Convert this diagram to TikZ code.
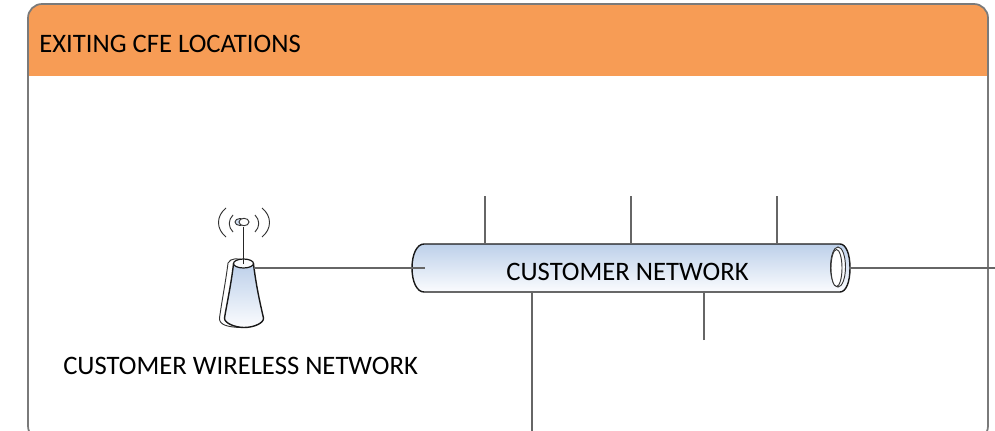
\documentclass[tikz,border=0pt]{standalone}
\usepackage{fontspec}
\setmainfont{Carlito}
\definecolor{hdr}{HTML}{F79C55}
\definecolor{frameg}{HTML}{7A7A7A}
\definecolor{lineg}{HTML}{666666}
\definecolor{blu}{HTML}{BDD0EA}
\definecolor{blw}{HTML}{FBFCFE}
\tikzset{
  lbl/.style={font=\fontsize{20}{22}\selectfont,text=black,inner sep=0pt},
  wire/.style={draw=lineg,line width=0.8pt},
  ink/.style={draw=black!90,line width=1.05pt},
  thin ink/.style={draw=black!80,line width=0.7pt},
  grad/.style={top color=blu,bottom color=blw}
}
\begin{document}
\begin{tikzpicture}[x=0.75pt,y=-0.75pt]
\useasboundingbox (0,0) rectangle (995,431);
\clip (0,0) rectangle (995,431);
% frame and header
\begin{scope}
\clip[rounded corners=10.5pt] (28,4) rectangle (988,440);
\fill[white] (28,4) rectangle (988,440);
\fill[hdr] (28,4) rectangle (988,76);
\end{scope}
\draw[draw=frameg,line width=1.3pt,rounded corners=10.5pt] (28,4) rectangle (988,440);
\node[lbl,anchor=base west] (title) at (39,53) {EXITING CFE LOCATIONS};
% pipe
\path[grad] (424,244) -- (840,244) .. controls (846,244) and (850,254) .. (850,268)
  .. controls (850,282) and (846,292) .. (840,292) -- (424,292)
  .. controls (417,292) and (412,282) .. (412,268) .. controls (412,254) and (417,244) .. (424,244) -- cycle;
\draw[ink] (424,244) -- (840,244) .. controls (846,244) and (850,254) .. (850,268)
  .. controls (850,282) and (846,292) .. (840,292) -- (424,292)
  .. controls (417,292) and (412,282) .. (412,268) .. controls (412,254) and (417,244) .. (424,244) -- cycle;
\draw[thin ink,fill=blw] (838,267) ellipse [x radius=7.5,y radius=20];
\draw[thin ink,fill=white] (836.5,268) ellipse [x radius=5.5,y radius=18.5];
\node[lbl,minimum width=328.5pt,minimum height=36pt,anchor=center] (pipe) at (631,268) {};
\node[lbl,anchor=base] (pipetext) at (627.5,280) {CUSTOMER NETWORK};
% antenna
\path[fill=white,thin ink] (228,263) .. controls (226,280) and (222,300) .. (219.5,318)
  .. controls (219,325) and (228,327) .. (240,327.5) -- (245,262) .. controls (240,257) and (230,258) .. (228,263) -- cycle;
\path[grad,ink] (233.5,264) .. controls (231,285) and (227,303) .. (224.5,318)
  .. controls (224,323) and (235,327.5) .. (244,327.5) .. controls (254,327.5) and (264,323) .. (263.5,318)
  .. controls (260,303) and (256,285) .. (253.5,264) -- cycle;
\path[fill=blw,draw=black!90,line width=0.9pt] (243.5,263.5) ellipse [x radius=10,y radius=4.5];
\node[inner sep=0pt,minimum size=0pt] (ant) at (254,268) {};
\coordinate (stemtop) at (243.5,227);
\draw[draw=black!85,line width=0.9pt] (243.5,264) -- (stemtop);
\path[fill=blu!70,thin ink] (240,222) ellipse [x radius=5,y radius=3.5];
\path[fill=white,thin ink] (244,222) ellipse [x radius=5,y radius=3.7];
\draw[thin ink] (233,215) .. controls (228,220) and (228,227) .. (233,232);
\draw[thin ink] (255,215) .. controls (260,220) and (260,227) .. (255,232);
\draw[thin ink] (226,208) .. controls (216,216) and (216,229) .. (226,237);
\draw[thin ink] (262,208) .. controls (272,216) and (272,229) .. (262,237);
\node[lbl,anchor=base west] (wlabel) at (63,374) {CUSTOMER WIRELESS NETWORK};
% connectors
\coordinate (t1) at (485,196);
\coordinate (t2) at (631,196);
\coordinate (t3) at (777,196);
\coordinate (b1) at (704,340);
\coordinate (b2) at (532,431);
\coordinate (re) at (995,268);
\coordinate (pl) at (425,268);
\draw[wire] (t1) -- (t1 |- pipe.north);
\draw[wire] (t2) -- (t2 |- pipe.north);
\draw[wire] (t3) -- (t3 |- pipe.north);
\draw[wire] (b1) -- (b1 |- pipe.south);
\draw[wire] (b2) -- (b2 |- pipe.south);
\draw[wire] (pipe.east) -- (re);
\draw[wire] (ant) -- (pl);
\end{tikzpicture}
\end{document}
